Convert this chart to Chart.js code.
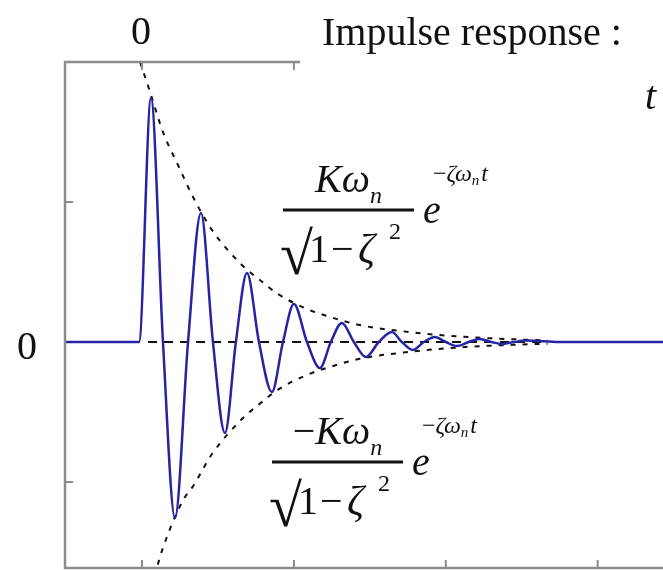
<!DOCTYPE html>
<html>
<head>
<meta charset="utf-8">
<script src="https://cdn.jsdelivr.net/npm/chart.js@4.4.0/dist/chart.umd.min.js"></script>
<style>
  html, body { margin: 0; padding: 0; background: #fff; overflow: hidden; }
</style>
</head>
<body>
<canvas id="myChart" width="663" height="570"></canvas>
<script>
// impulse response: flat before the impulse, then peaks / zero crossings / troughs
const respT = [-0.51, -0.02, 0.059, 0.138, 0.217, 0.303, 0.388, 0.467, 0.546, 0.618, 0.691, 0.770,
  0.855, 0.928, 1.0, 1.086, 1.171, 1.243, 1.316, 1.395, 1.474, 1.559, 1.645, 1.711, 1.783,
  1.855, 1.928, 2.0, 2.072, 2.15, 2.224, 2.30, 2.375, 2.45, 2.533, 2.75, 3.5];
const respY = [0, 0, 1.743, 0, -1.257, 0, 0.921, 0, -0.65, 0, 0.493, 0,
  -0.357, 0, 0.271, 0, -0.186, 0, 0.136, 0, -0.107, 0, 0.071, 0, -0.057,
  0, 0.036, 0, -0.029, 0, 0.021, 0, -0.014, 0, 0.01, 0, 0];

// dashed decay envelopes
const upperT = [-0.013, 0.053, 0.138, 0.237, 0.336, 0.461, 0.658, 0.776, 0.895, 1.086, 1.217, 1.434, 1.763, 2.092, 2.487, 2.67];
const upperY = [2.0, 1.786, 1.50, 1.264, 1.036, 0.80, 0.55, 0.443, 0.343, 0.236, 0.186, 0.121, 0.071, 0.039, 0.018, 0.012];
const lowerT = [-0.013, 0.053, 0.138, 0.27, 0.336, 0.461, 0.658, 0.776, 0.895, 1.086, 1.217, 1.434, 1.763, 2.092, 2.487, 2.67];
const lowerY = [-2.0, -1.78, -1.47, -1.13, -1.03, -0.80, -0.55, -0.44, -0.34, -0.235, -0.185, -0.12, -0.07, -0.038, -0.018, -0.012];

// dashed zero line
const zeroT = [0.04, 2.67];
const zeroY = [0, 0];

const xTicks = [0, 1, 2, 3];
const xTicksTop = [0, 1];
const yTicks = [-1, 1];

const pts = (xs, ys) => xs.map((x, i) => ({ x: x, y: ys[i] }));

const serif = '"Liberation Serif", "Times New Roman", serif';

function drawFormula(ctx, left, barY, neg) {
  const w = 131;
  const cx = left + w / 2;
  ctx.fillStyle = '#111';
  ctx.textAlign = 'left';
  ctx.textBaseline = 'alphabetic';

  // numerator  (−)Kω_n
  ctx.font = '40px ' + serif;
  const wMinus = neg ? ctx.measureText('\u2212').width : 0;
  ctx.font = 'italic 40px ' + serif;
  const wK = ctx.measureText('K\u03C9').width;
  ctx.font = 'italic 24px ' + serif;
  const wn = ctx.measureText('n').width;
  let x = cx - (wMinus + wK + wn) / 2;
  if (neg) {
    ctx.font = '40px ' + serif;
    ctx.fillText('\u2212', x, barY - 18);
    x += wMinus;
  }
  ctx.font = 'italic 40px ' + serif;
  ctx.fillText('K\u03C9', x, barY - 18);
  ctx.font = 'italic 24px ' + serif;
  ctx.fillText('n', x + wK, barY - 7);

  // fraction bar
  ctx.fillRect(left, barY - 1.5, w, 3);

  // denominator  √(1 − ζ²)
  ctx.font = '60px ' + serif;
  ctx.fillText('\u221A', left - 3, barY + 64);
  ctx.font = '40px ' + serif;
  ctx.fillText('1', left + 26, barY + 52);
  ctx.fillText('\u2212', left + 48, barY + 52);
  ctx.font = 'italic 42px ' + serif;
  ctx.fillText('\u03B6', left + 75, barY + 53);
  ctx.font = '24px ' + serif;
  ctx.fillText('2', left + 106, barY + 29);

  // e^(−ζ ω_n t)
  ctx.font = 'italic 40px ' + serif;
  ctx.fillText('e', left + w + 9, barY + 13);
  let ex = left + w + 19;
  const ey = barY - 29;
  ctx.font = '24px ' + serif;
  ctx.fillText('\u2212', ex, ey);
  ex += ctx.measureText('\u2212').width;
  ctx.font = 'italic 24px ' + serif;
  ctx.fillText('\u03B6\u03C9', ex, ey);
  ex += ctx.measureText('\u03B6\u03C9').width;
  ctx.font = 'italic 15px ' + serif;
  ctx.fillText('n', ex, ey + 4);
  ex += ctx.measureText('n').width + 2;
  ctx.font = 'italic 24px ' + serif;
  ctx.fillText('t', ex, ey);
}

const decorations = {
  id: 'decorations',
  afterDraw(chart) {
    const ctx = chart.ctx;
    const area = chart.chartArea;
    const xs = chart.scales.x, ys = chart.scales.y;
    ctx.save();

    // frame: left, bottom, and the top edge up to the heading
    ctx.strokeStyle = '#8c8c8c';
    ctx.lineWidth = 2.5;
    ctx.beginPath();
    ctx.moveTo(300, area.top);
    ctx.lineTo(area.left, area.top);
    ctx.lineTo(area.left, area.bottom);
    ctx.lineTo(chart.width, area.bottom);
    ctx.stroke();

    // inward ticks
    ctx.lineWidth = 2;
    ctx.beginPath();
    xTicks.forEach(v => {
      const px = xs.getPixelForValue(v);
      ctx.moveTo(px, area.bottom);
      ctx.lineTo(px, area.bottom - 8);
    });
    xTicksTop.forEach(v => {
      const px = xs.getPixelForValue(v);
      ctx.moveTo(px, area.top);
      ctx.lineTo(px, area.top + 8);
    });
    yTicks.forEach(v => {
      const py = ys.getPixelForValue(v);
      ctx.moveTo(area.left, py);
      ctx.lineTo(area.left + 8, py);
    });
    ctx.stroke();

    // axis labels and heading
    ctx.fillStyle = '#111';
    ctx.textBaseline = 'alphabetic';
    ctx.font = '40px ' + serif;
    ctx.textAlign = 'center';
    ctx.fillText('0', xs.getPixelForValue(0) - 1, 44);
    ctx.fillText('0', 27, ys.getPixelForValue(0) + 17);
    ctx.textAlign = 'left';
    ctx.fillText('Impulse response :', 322, 45);
    ctx.font = 'italic 40px ' + serif;
    ctx.fillText('t', 645, 109);

    drawFormula(ctx, 283, 210, false);
    drawFormula(ctx, 272, 462, true);
    ctx.restore();
  }
};

const ctx = document.getElementById('myChart').getContext('2d');
const myChart = new Chart(ctx, {
  type: 'line',
  data: {
    datasets: [{
      label: 'response',
      data: pts(respT, respY),
      borderColor: '#2424a4',
      borderWidth: 2.5,
      pointRadius: 0,
      cubicInterpolationMode: 'monotone',
    }, {
      label: 'upper envelope',
      data: pts(upperT, upperY),
      borderColor: '#111',
      borderWidth: 2,
      borderDash: [5, 7],
      pointRadius: 0,
      cubicInterpolationMode: 'monotone',
    }, {
      label: 'lower envelope',
      data: pts(lowerT, lowerY),
      borderColor: '#111',
      borderWidth: 2,
      borderDash: [5, 7],
      pointRadius: 0,
      cubicInterpolationMode: 'monotone',
    }, {
      label: 'zero',
      data: pts(zeroT, zeroY),
      borderColor: '#111',
      borderWidth: 2,
      borderDash: [9, 7],
      pointRadius: 0,
    }]
  },
  options: {
    responsive: false,
    animation: false,
    devicePixelRatio: 1,
    layout: { padding: { left: 65, top: 62, right: 0, bottom: 2 } },
    plugins: { legend: { display: false }, tooltip: { enabled: false } },
    scales: {
      x: { type: 'linear', min: -0.507, max: 3.43, display: false },
      y: { min: -1.614, max: 2.0, display: false }
    }
  },
  plugins: [decorations]
});
</script>
</body>
</html>
